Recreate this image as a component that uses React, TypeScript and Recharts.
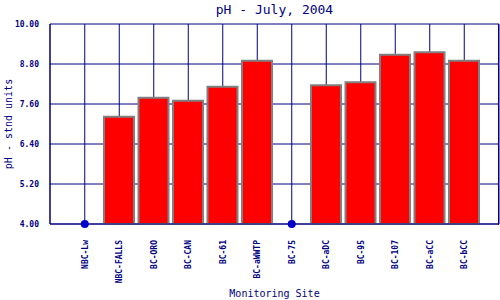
import React from "react";
import { ComposedChart, Bar, Scatter, XAxis, YAxis, CartesianGrid, Label } from "recharts";

const sites = ["NBC-Lw", "NBC-FALLS", "BC-ORO", "BC-CAN", "BC-61", "BC-aWWTP", "BC-75", "BC-aDC", "BC-95", "BC-107", "BC-aCC", "BC-bCC"];
const phValues: (number | null)[] = [null, 7.22, 7.79, 7.7, 8.12, 8.9, null, 8.16, 8.25, 9.08, 9.15, 8.9];
const markerValues: (number | null)[] = [4, null, null, null, null, null, 4, null, null, null, null, null];
const yTicks = [4, 5.2, 6.4, 7.6, 8.8, 10];

const data = sites.map((s, i) => ({ site: s, ph: phValues[i], marker: markerValues[i] }));

const NAVY = "#000080";
const MONO = "'DejaVu Sans Mono', 'Liberation Mono', monospace";

const XTick = (props: any) => {
  const { x, y, payload } = props;
  return (
    <g transform={`translate(${x},${y})`}>
      <text transform="rotate(-90)" x={-8} y={0} dy="0.35em" textAnchor="end" fill={NAVY} fontFamily={MONO} fontSize={8} fontWeight="bold">
        {payload.value}
      </text>
    </g>
  );
};

const Dot = (props: any) => {
  const { cx, cy } = props;
  if (cx == null || cy == null) return null;
  return <circle cx={cx} cy={cy} r={4} fill="#0000cc" />;
};

export default function App() {
  return (
    <div style={{ position: "absolute", left: 0, top: 0, width: 500, height: 300, background: "#fff" }}>
      <div style={{ position: "absolute", left: 50, width: 449, top: 0, textAlign: "center", fontFamily: MONO, fontSize: 13, color: NAVY, lineHeight: "19px" }}>
        pH - July, 2004
      </div>
      <ComposedChart width={500} height={300} data={data} margin={{ top: 24, right: 1, left: 0, bottom: 0 }}>
        <CartesianGrid stroke={NAVY} strokeWidth={1} horizontalValues={yTicks} />
        <XAxis
          dataKey="site"
          type="category"
          interval={0}
          padding={{ left: 17.5, right: 17.5 }}
          height={76}
          tick={<XTick />}
          tickLine={false}
          axisLine={{ stroke: NAVY }}
        >
          <Label value="Monitoring Site" position="insideBottom" offset={3} fill={NAVY} fontFamily={MONO} fontSize={10} />
        </XAxis>
        <YAxis
          type="number"
          domain={[4, 10]}
          ticks={yTicks}
          interval={0}
          width={50}
          tickLine={false}
          tickMargin={5}
          tickFormatter={(v: number) => v.toFixed(2)}
          tick={{ fill: NAVY, fontFamily: MONO, fontSize: 8, fontWeight: "bold" }}
          axisLine={{ stroke: NAVY }}
        >
          <Label value="pH - stnd units" angle={-90} position="insideLeft" offset={8} fill={NAVY} fontFamily={MONO} fontSize={10} style={{ textAnchor: "middle" }} />
        </YAxis>
        <Bar dataKey="ph" fill="#ff0000" stroke="#808080" strokeWidth={2} barSize={30} isAnimationActive={false} />
        <Scatter dataKey="marker" shape={<Dot />} isAnimationActive={false} />
      </ComposedChart>
      <div style={{ position: "absolute", left: 498, top: 24, width: 1, height: 201, background: NAVY, pointerEvents: "none" }} />
    </div>
  );
}
